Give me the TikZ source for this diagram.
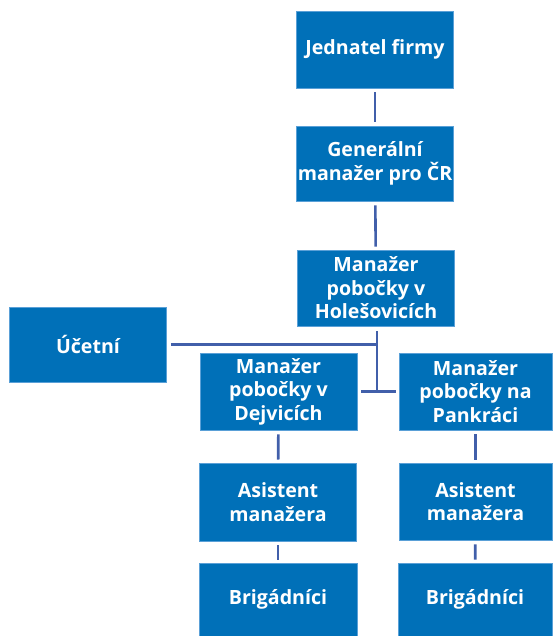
\documentclass[tikz,border=0pt]{standalone}
\usepackage{fontspec}
\setmainfont{Open Sans}
\begin{document}
\begin{tikzpicture}[x=1pt,y=-1pt,
  box/.style={fill={rgb,255:red,0;green,112;blue,184}, draw={rgb,255:red,90;green,160;blue,215}, line width=0.6pt, text=white,
    font=\fontsize{19.6}{23.5}\selectfont\bfseries, align=center, inner sep=0pt, minimum width=157pt, minimum height=76pt},
  conn/.style={draw={rgb,255:red,65;green,95;blue,170}, line width=2.6pt}]
\useasboundingbox (0,0) rectangle (552,636);
\node[box, minimum height=77pt] (J) at (375,49.5) {Jednatel firmy};
\node[box, minimum height=75pt] (G) at (375,163.5) {Generální\\manažer pro ČR};
\node[box] (H) at (376,288) {Manažer\\pobočky v\\Holešovicích};
\node[box, minimum height=75pt] (U) at (88,344.5) {Účetní};
\node[box, minimum height=77pt] (D) at (278.5,391.5) {Manažer\\pobočky v\\Dejvicích};
\node[box, minimum width=153pt, minimum height=77pt] (P) at (475.5,391.5) {Manažer\\pobočky na\\Pankráci};
\node[box, minimum height=78pt] (AL) at (278,502) {Asistent\\manažera};
\node[box, minimum width=153pt, minimum height=77pt] (AR) at (475.5,501.5) {Asistent\\manažera};
\node[box, minimum width=158pt, minimum height=73pt] (BL) at (278,599.5) {Brigádníci};
\node[box, minimum width=154pt, minimum height=73pt] (BR) at (475,599.5) {Brigádníci};
\draw[conn, shorten <=4pt, shorten >=4pt] (J) -- (G);
\draw[conn, shorten <=4pt, shorten >=3pt] (G) -- (H);
\coordinate (jt) at (377,344.5);
\coordinate (jb) at (377,391.5);
\draw[conn, shorten <=5pt] (H.south -| jt) -- (jb);
\draw[conn, shorten <=4pt] (U.east) -- (jt);
\draw[conn, shorten <=4pt, shorten >=3pt] (D.east) -- (P.west);
\draw[conn, shorten <=4pt, shorten >=3pt] (D) -- (AL);
\draw[conn, shorten <=4pt, shorten >=3pt] (AL) -- (BL);
\draw[conn, shorten <=4pt, shorten >=3pt] (P) -- (AR);
\draw[conn, shorten <=4pt, shorten >=3pt] (AR) -- (BR);
\end{tikzpicture}
\end{document}
